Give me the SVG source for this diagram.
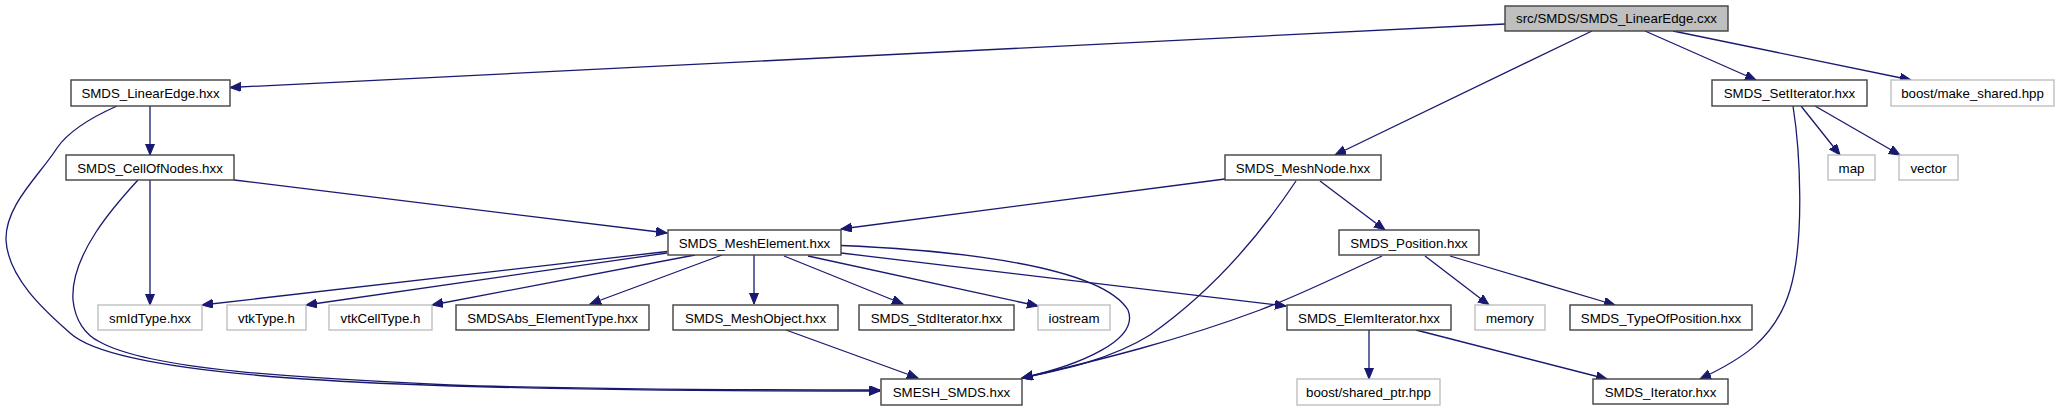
<svg xmlns="http://www.w3.org/2000/svg" width="2059" height="411" viewBox="0 0 2059 411">
<style>
.n rect{fill:#ffffff;stroke:#404040;stroke-width:1.4}
.g rect{fill:#ffffff;stroke:#bfbfbf;stroke-width:1.4}
.r rect{fill:#bfbfbf;stroke:#404040;stroke-width:1.4}
text{font-family:"Liberation Sans",Arial,sans-serif;font-size:13.3px;fill:#000;text-anchor:middle}
#edges path{fill:none;stroke:#191970;stroke-width:1.3;marker-end:url(#arr)}
</style>
<defs>
<marker id="arr" markerUnits="userSpaceOnUse" markerWidth="12" markerHeight="10" refX="11" refY="4.5" orient="auto">
<path d="M0,0 L11,4.5 L0,9 z" fill="#191970" stroke="#191970" stroke-width="1"/>
</marker>
</defs>
<rect width="2059" height="411" fill="#ffffff"/>
<g id="edges">
<path d="M1505,24 L230,87.5"/>
<path d="M1592,31 L1335,155"/>
<path d="M1645,31 L1756,80"/>
<path d="M1673,31 L1911,80"/>
<path d="M150,106 L150,155"/>
<path d="M117,106 C90,118 68,132 57,148 C40,175 5,205 6,240 C8,280 50,315 70,333 C110,370 300,380 400,384 C600,392 800,391 880,391"/>
<path d="M138,180 C115,205 70,255 73,300 C75,320 85,335 100,342 C150,370 300,378 450,385 C600,390 800,390 880,390"/>
<path d="M150,180 L150,305"/>
<path d="M234,180 L667,233"/>
<path d="M1225,179 L841,229"/>
<path d="M1296,181 C1250,250 1200,300 1150,335 C1110,360 1060,370 1022,378"/>
<path d="M1320,181 L1385,230"/>
<path d="M1801,106 L1840,155"/>
<path d="M1815,106 L1900,155"/>
<path d="M1793,106 C1800,150 1805,240 1790,290 C1775,340 1740,360 1700,379"/>
<path d="M667,251.5 L202,305"/>
<path d="M667,253 L306,305"/>
<path d="M695,255 L432,305"/>
<path d="M722,255 L590,304"/>
<path d="M754,255 L754,304"/>
<path d="M784,256 L903,304"/>
<path d="M808,256 L1038,306"/>
<path d="M841,253 L1286,306"/>
<path d="M841,245.5 C950,250 1100,265 1128,310 C1140,340 1080,365 1022,378"/>
<path d="M1382,256 C1340,275 1300,295 1260,310 C1180,340 1100,360 1022,378"/>
<path d="M1425,256 L1489,305"/>
<path d="M1450,256 L1615,305"/>
<path d="M786,330 L918,378"/>
<path d="M1369,330 L1369,379"/>
<path d="M1416,330 L1607,379"/>
</g>
<g id="n_cxx" class="r"><rect x="1505" y="6" width="223" height="25"/><text x="1616.5" y="23">src/SMDS/SMDS_LinearEdge.cxx</text></g>
<g id="n_linearedge" class="n"><rect x="71" y="80" width="159" height="26"/><text x="150.5" y="98">SMDS_LinearEdge.hxx</text></g>
<g id="n_setiterator" class="n"><rect x="1712" y="80" width="155" height="26"/><text x="1789.5" y="98">SMDS_SetIterator.hxx</text></g>
<g id="n_make_shared" class="g"><rect x="1891" y="80" width="163" height="26"/><text x="1972.5" y="98">boost/make_shared.hpp</text></g>
<g id="n_cellofnodes" class="n"><rect x="66" y="155" width="168" height="25"/><text x="150" y="172.5">SMDS_CellOfNodes.hxx</text></g>
<g id="n_meshnode" class="n"><rect x="1225" y="155" width="156" height="25"/><text x="1303" y="172.5">SMDS_MeshNode.hxx</text></g>
<g id="n_map" class="g"><rect x="1828" y="155" width="47" height="25"/><text x="1851.5" y="172.5">map</text></g>
<g id="n_vector" class="g"><rect x="1899" y="155" width="59" height="25"/><text x="1928.5" y="172.5">vector</text></g>
<g id="n_meshelement" class="n"><rect x="668" y="230" width="173" height="25"/><text x="754.5" y="247.5">SMDS_MeshElement.hxx</text></g>
<g id="n_position" class="n"><rect x="1339" y="230" width="140" height="25"/><text x="1409" y="247.5">SMDS_Position.hxx</text></g>
<g id="n_smidtype" class="g"><rect x="98" y="305" width="104" height="25"/><text x="150" y="322.5">smIdType.hxx</text></g>
<g id="n_vtktype" class="g"><rect x="227" y="305" width="79" height="25"/><text x="266.5" y="322.5">vtkType.h</text></g>
<g id="n_vtkcelltype" class="g"><rect x="329" y="305" width="103" height="25"/><text x="380.5" y="322.5">vtkCellType.h</text></g>
<g id="n_elementtype" class="n"><rect x="456" y="305" width="193" height="25"/><text x="552.5" y="322.5">SMDSAbs_ElementType.hxx</text></g>
<g id="n_meshobject" class="n"><rect x="673" y="305" width="165" height="25"/><text x="755.5" y="322.5">SMDS_MeshObject.hxx</text></g>
<g id="n_stditerator" class="n"><rect x="859" y="305" width="155" height="25"/><text x="936.5" y="322.5">SMDS_StdIterator.hxx</text></g>
<g id="n_iostream" class="g"><rect x="1038" y="305" width="72" height="25"/><text x="1074" y="322.5">iostream</text></g>
<g id="n_elemiterator" class="n"><rect x="1287" y="305" width="164" height="25"/><text x="1369" y="322.5">SMDS_ElemIterator.hxx</text></g>
<g id="n_memory" class="g"><rect x="1475" y="305" width="70" height="25"/><text x="1510" y="322.5">memory</text></g>
<g id="n_typeofposition" class="n"><rect x="1570" y="305" width="182" height="25"/><text x="1661" y="322.5">SMDS_TypeOfPosition.hxx</text></g>
<g id="n_smesh_smds" class="n"><rect x="881" y="379" width="141" height="26"/><text x="951.5" y="397">SMESH_SMDS.hxx</text></g>
<g id="n_shared_ptr" class="g"><rect x="1297" y="379" width="143" height="26"/><text x="1368.5" y="397">boost/shared_ptr.hpp</text></g>
<g id="n_iterator" class="n"><rect x="1593" y="379" width="135" height="25"/><text x="1660.5" y="396.5">SMDS_Iterator.hxx</text></g>
</svg>
